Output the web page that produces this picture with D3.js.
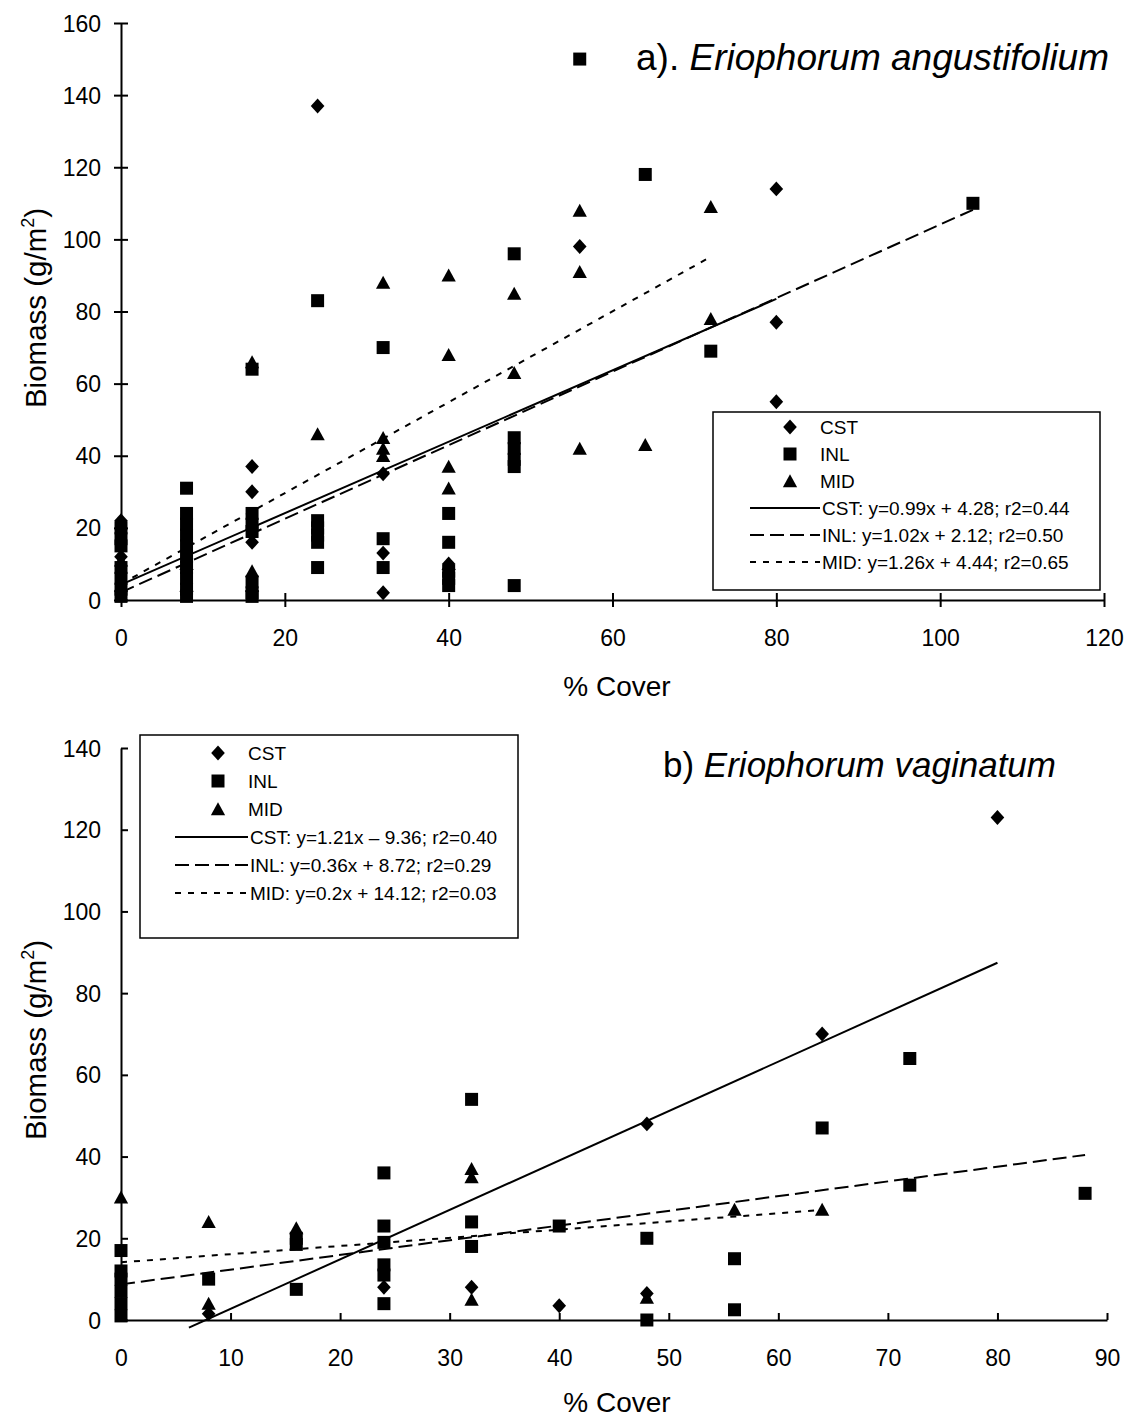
<!DOCTYPE html>
<html>
<head>
<meta charset="utf-8">
<script src="https://cdn.jsdelivr.net/npm/d3@7"></script>
<style>
  body { margin: 0; background: #fff; }
  svg text { font-family: "Liberation Sans", Arial, Helvetica, sans-serif; fill: #000; }
</style>
</head>
<body>
<svg id="chart" width="1133" height="1417"></svg>
<script>
'use strict';

// ---- panel a) Eriophorum angustifolium : [cover %, biomass g/m2]
var aCST = [[0,22],[0,12],[16,37],[16,30],[16,16],[24,137],[32,35],[32,13],[32,2],
  [40,10],[56,98],[80,114],[80,77],[80,55]];
var aINL = [[0,20],[0,17],[0,15],[0,9],[0,6],[0,3],[0,1],
  [8,31],[8,24],[8,21],[8,18],[8,15],[8,12],[8,9],[8,6],[8,3],[8,1],
  [16,64],[16,24],[16,21],[16,19],[16,5],[16,2],[16,1],
  [24,83],[24,22],[24,20],[24,18],[24,16],[24,9],
  [32,70],[32,17],[32,9],[40,24],[40,16],[40,8],[40,6],[40,4],
  [48,96],[48,45],[48,42],[48,39],[48,37],[48,4],
  [56,150],[64,118],[72,69],[104,110]];
var aMID = [[0,11],[0,4],[8,10],[8,4],[16,66],[16,8],[16,4],[24,46],
  [32,88],[32,45],[32,42],[32,40],[40,90],[40,68],[40,37],[40,31],[40,10],
  [48,85],[48,63],[56,108],[56,91],[56,42],[64,43],[72,109],[72,78]];
var aSlope = [0.99, 1.02, 1.26];
var aIntercept = [4.28, 2.12, 4.44];
var aFitRange = [[0, 80], [0, 104], [0, 72]];
var aFitText = ['CST: y=0.99x + 4.28; r2=0.44', 'INL: y=1.02x + 2.12; r2=0.50', 'MID: y=1.26x + 4.44; r2=0.65'];
var aXTicks = [0, 20, 40, 60, 80, 100, 120];
var aYTicks = [0, 20, 40, 60, 80, 100, 120, 140, 160];

// ---- panel b) Eriophorum vaginatum
var bCST = [[8,1.5],[24,96],[24,8],[32,8],[40,3.5],[48,48],[48,6.5],[64,70],[80,123]];
var bINL = [[0,17],[0,12],[0,10],[0,7],[0,4],[0,1],[8,10],[16,20],[16,18.5],[16,7.5],
  [24,36],[24,23],[24,19],[24,13.5],[24,11],[24,4],[32,54],[32,24],[32,18],
  [40,23],[48,20],[48,0],[56,15],[56,2.5],[64,47],[72,64],[72,33],[88,31]];
var bMID = [[0,30],[8,24],[8,4],[16,22.5],[32,37],[32,35],[32,5],[48,5.5],[56,27],[64,27]];
var bSlope = [1.21, 0.36, 0.2];
var bIntercept = [-9.36, 8.72, 14.12];
var bFitRange = [[6.2, 80], [0, 88], [0, 64]];
var bFitText = ['CST: y=1.21x \u2013 9.36; r2=0.40', 'INL: y=0.36x + 8.72; r2=0.29', 'MID: y=0.2x + 14.12; r2=0.03'];
var bXTicks = [0, 10, 20, 30, 40, 50, 60, 70, 80, 90];
var bYTicks = [0, 20, 40, 60, 80, 100, 120, 140];

var seriesNames = ['CST', 'INL', 'MID'];
var shapes = ['diamond', 'square', 'triangle'];
var dashes = [null, '14,6', '6,7'];

var svg = d3.select('#chart');

// custom marker shapes for d3.symbol
function shape(kind) {
  return {
    draw: function(ctx, size) {
      var r = Math.sqrt(size) / 2;
      if (kind === 'diamond') {
        ctx.moveTo(0, -r * 1.15); ctx.lineTo(r * 1.05, 0);
        ctx.lineTo(0, r * 1.15); ctx.lineTo(-r * 1.05, 0); ctx.closePath();
      } else if (kind === 'square') {
        ctx.rect(-r, -r, 2 * r, 2 * r);
      } else {
        ctx.moveTo(0, -r * 1.05); ctx.lineTo(r * 1.1, r * 0.95);
        ctx.lineTo(-r * 1.1, r * 0.95); ctx.closePath();
      }
    }
  };
}
var symbol = function(i) { return d3.symbol().type(shape(shapes[i])).size(169)(); };

function drawPanel(p) {
  var g = svg.append('g');
  var x = d3.scaleLinear().domain(p.xDomain).range(p.xRange);
  var y = d3.scaleLinear().domain(p.yDomain).range(p.yRange);

  // axes
  var xg = g.append('g')
    .attr('transform', 'translate(0,' + p.yRange[0] + ')')
    .call(d3.axisBottom(x).tickValues(p.xTicks).tickSizeOuter(0));
  xg.selectAll('.tick line').attr('y1', -p.tickIn).attr('y2', p.tickOut);
  xg.selectAll('.tick text').attr('y', 38).attr('dy', '0.35em');

  var yg = g.append('g')
    .attr('transform', 'translate(' + p.xRange[0] + ',0)')
    .call(d3.axisLeft(y).tickValues(p.yTicks).tickSizeOuter(0));
  yg.selectAll('.tick line').attr('x1', -p.tickOut).attr('x2', p.tickIn);
  yg.selectAll('.tick text').attr('x', -20).attr('dy', '0.35em');

  g.selectAll('.domain').attr('stroke', '#000').attr('stroke-width', 2);
  g.selectAll('.tick line').attr('stroke', '#000').attr('stroke-width', 2);
  g.selectAll('.tick text').attr('font-size', 23).attr('font-family', null);

  // points
  p.series.forEach(function(pts, i) {
    g.append('g').selectAll('path')
      .data(pts)
      .enter().append('path')
      .attr('d', symbol(i))
      .attr('fill', '#000')
      .attr('transform', function(d) { return 'translate(' + x(d[0]) + ',' + y(d[1]) + ')'; });
  });

  // regression lines
  var line = d3.line()
    .x(function(d) { return x(d[0]); })
    .y(function(d) { return y(d[1]); });
  p.slope.forEach(function(s, i) {
    var pts = p.fitRange[i].map(function(v) { return [v, s * v + p.intercept[i]]; });
    g.append('path')
      .attr('d', line(pts))
      .attr('fill', 'none')
      .attr('stroke', '#000')
      .attr('stroke-width', 2)
      .attr('stroke-dasharray', dashes[i]);
  });

  // axis titles
  g.append('text')
    .attr('x', p.xTitle[0]).attr('y', p.xTitle[1])
    .attr('text-anchor', 'middle').attr('dy', '0.35em')
    .attr('font-size', 28)
    .text('% Cover');
  var yt = g.append('text')
    .attr('transform', 'translate(' + p.yTitle[0] + ',' + p.yTitle[1] + ') rotate(-90)')
    .attr('text-anchor', 'middle').attr('dy', '0.35em')
    .attr('font-size', 29.5);
  yt.append('tspan').text('Biomass (g/m');
  yt.append('tspan').attr('font-size', 18).attr('dy', -12).text('2');
  yt.append('tspan').attr('dy', 12).text(')');

  // panel title
  var t = g.append('text')
    .attr('x', p.title[0]).attr('y', p.title[1])
    .attr('font-size', p.titleSize);
  t.append('tspan').text(p.titlePrefix);
  t.append('tspan').attr('font-style', 'italic').text(p.titleName);

  // legend
  var L = p.legend;
  var lg = g.append('g');
  lg.append('rect')
    .attr('x', L.x).attr('y', L.y).attr('width', L.w).attr('height', L.h)
    .attr('fill', '#fff').attr('stroke', '#000').attr('stroke-width', 1.5);
  seriesNames.forEach(function(name, i) {
    var ry = L.row0 + i * L.step;
    lg.append('path').attr('d', symbol(i)).attr('fill', '#000')
      .attr('transform', 'translate(' + L.sym + ',' + ry + ')');
    lg.append('text').attr('x', L.text).attr('y', ry).attr('dy', '0.35em')
      .attr('font-size', 19).text(name);
  });
  p.fitText.forEach(function(txt, i) {
    var ry = L.row0 + (i + 3) * L.step;
    lg.append('line')
      .attr('x1', L.line0).attr('x2', L.text).attr('y1', ry).attr('y2', ry)
      .attr('stroke', '#000').attr('stroke-width', 2)
      .attr('stroke-dasharray', dashes[i]);
    lg.append('text').attr('x', L.text + 2).attr('y', ry).attr('dy', '0.35em')
      .attr('font-size', 19).text(txt);
  });
}

drawPanel({
  xDomain: [0, 120], xRange: [121, 1104],
  yDomain: [0, 160], yRange: [600, 23],
  xTicks: aXTicks, yTicks: aYTicks, tickIn: 7, tickOut: 7,
  series: [aCST, aINL, aMID],
  slope: aSlope, intercept: aIntercept, fitRange: aFitRange, fitText: aFitText,
  xTitle: [617, 686], yTitle: [36, 308],
  title: [636, 70], titleSize: 37, titlePrefix: 'a). ', titleName: 'Eriophorum angustifolium',
  legend: { x: 713, y: 412, w: 387, h: 178, row0: 427, step: 27, sym: 790, text: 820, line0: 750 }
});

drawPanel({
  xDomain: [0, 90], xRange: [121, 1107],
  yDomain: [0, 140], yRange: [1320, 748],
  xTicks: bXTicks, yTicks: bYTicks, tickIn: 7, tickOut: 0,
  series: [bCST, bINL, bMID],
  slope: bSlope, intercept: bIntercept, fitRange: bFitRange, fitText: bFitText,
  xTitle: [617, 1402], yTitle: [36, 1040],
  title: [663, 777], titleSize: 35, titlePrefix: 'b) ', titleName: 'Eriophorum vaginatum',
  legend: { x: 140, y: 735, w: 378, h: 203, row0: 753, step: 28, sym: 218, text: 248, line0: 175 }
});
</script>
</body>
</html>
